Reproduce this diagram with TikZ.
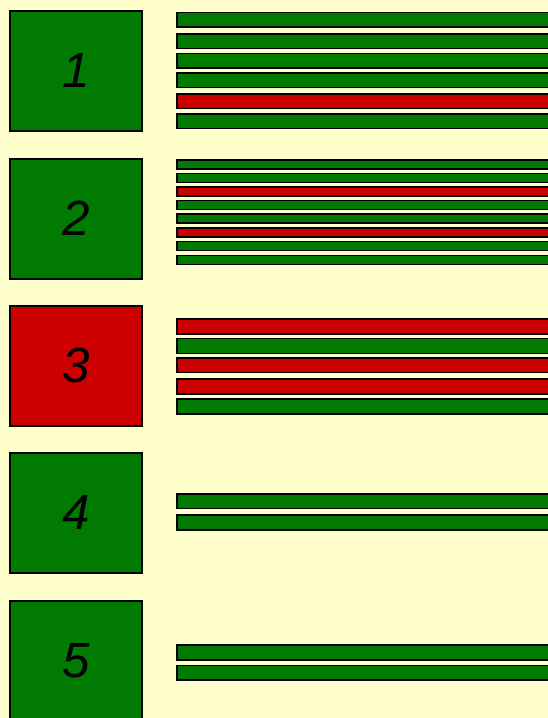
\documentclass[tikz,border=0pt]{standalone}
\usepackage{fontspec}
\setmainfont{Liberation Sans}
\usetikzlibrary{positioning}
\definecolor{paleyellow}{HTML}{FFFFCC}
\definecolor{okgreen}{HTML}{007A00}
\definecolor{badred}{HTML}{CC0000}
\tikzset{
  numbox/.style={draw=black, line width=1.5pt, minimum width=99pt, minimum height=90pt,
    inner sep=0pt, font=\fontsize{37}{40}\selectfont\itshape},
  bar/.style={draw=black, line width=1.1pt}
}

\begin{document}
\begin{tikzpicture}[x=0.75pt,y=-0.75pt]
\useasboundingbox (0,0) rectangle (548,718);
\clip (0,0) rectangle (548,718);
\fill[paleyellow] (0,0) rectangle (548,718);

% row 1
\node[numbox, fill=okgreen] (box1) at (76,71) {1};
\draw[bar, fill=okgreen] (177,12.5) rectangle (552,27);
\draw[bar, fill=okgreen] (177,34) rectangle (552,48.5);
\draw[bar, fill=okgreen] (177,53.5) rectangle (552,68);
\draw[bar, fill=okgreen] (177,73) rectangle (552,87.5);
\draw[bar, fill=badred] (177,94) rectangle (552,108.5);
\draw[bar, fill=okgreen] (177,114) rectangle (552,128.5);

% row 2
\node[numbox, fill=okgreen] (box2) at (76,218.5) {2};
\draw[bar, fill=okgreen] (177,160) rectangle (552,169);
\draw[bar, fill=okgreen] (177,173.5) rectangle (552,182.5);
\draw[bar, fill=badred] (177,187) rectangle (552,196);
\draw[bar, fill=okgreen] (177,200.5) rectangle (552,209.5);
\draw[bar, fill=okgreen] (177,214) rectangle (552,223);
\draw[bar, fill=badred] (177,228) rectangle (552,237);
\draw[bar, fill=okgreen] (177,241.5) rectangle (552,250.5);
\draw[bar, fill=okgreen] (177,255.5) rectangle (552,264.5);

% row 3
\node[numbox, fill=badred] (box3) at (76,365.5) {3};
\draw[bar, fill=badred] (177,319) rectangle (552,334);
\draw[bar, fill=okgreen] (177,338.5) rectangle (552,353.5);
\draw[bar, fill=badred] (177,358) rectangle (552,372.5);
\draw[bar, fill=badred] (177,379) rectangle (552,394);
\draw[bar, fill=okgreen] (177,399) rectangle (552,414);

% row 4
\node[numbox, fill=okgreen] (box4) at (76,513) {4};
\draw[bar, fill=okgreen] (177,494) rectangle (552,508.5);
\draw[bar, fill=okgreen] (177,515) rectangle (552,530);

% row 5
\node[numbox, fill=okgreen] (box5) at (76,661) {5};
\draw[bar, fill=okgreen] (177,645) rectangle (552,660);
\draw[bar, fill=okgreen] (177,665.5) rectangle (552,680);
\end{tikzpicture}
\end{document}
